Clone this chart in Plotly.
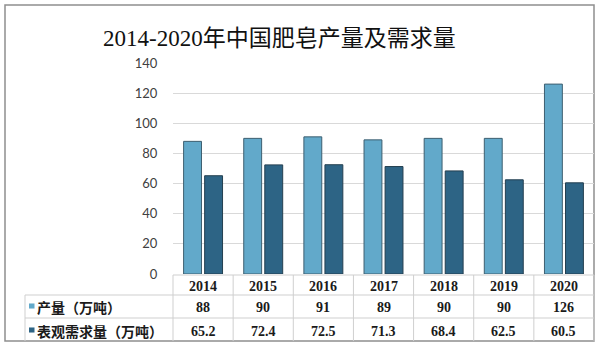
import plotly.graph_objects as go

years = ["2014", "2015", "2016", "2017", "2018", "2019", "2020"]
production = [88, 90, 91, 89, 90, 90, 126]
demand = [65.2, 72.4, 72.5, 71.3, 68.4, 62.5, 60.5]
prod_labels = ["88", "90", "91", "89", "90", "90", "126"]
demand_labels = ["65.2", "72.4", "72.5", "71.3", "68.4", "62.5", "60.5"]
series_names = ["产量（万吨）", "表观需求量（万吨）"]
title_text = "2014-2020年中国肥皂产量及需求量"
y_ticks = [0, 20, 40, 60, 80, 100, 120, 140]

W, H = 599, 348
ML, MR, MT, MB = 173, 5, 63, 74
PW = W - ML - MR
PH = H - MT - MB

def px_x(p):
    return (p - ML) / PW

def px_y(p):
    return (H - MB - p) / PH

light = "#62a9ca"
dark = "#2d6485"
serif = "'Liberation Serif', 'DejaVu Serif', 'Noto Sans CJK SC', serif"
cjk = "'Noto Sans CJK SC', sans-serif"

fig = go.Figure()
fig.add_trace(go.Bar(x=years, y=production, name=series_names[0],
                     marker=dict(color=light, line=dict(color="#3e5f70", width=1))))
fig.add_trace(go.Bar(x=years, y=demand, name=series_names[1],
                     marker=dict(color=dark, line=dict(color="#243f50", width=1))))

shapes = []
line_c = "#cfcfcf"
# outer frame
shapes.append(dict(type="rect", xref="paper", yref="paper",
                   x0=px_x(5), x1=px_x(594), y0=px_y(341), y1=px_y(5),
                   line=dict(color="#8f8f8f", width=1.5), layer="below"))
# table horizontal lines
y_top, y_r1, y_r2, y_bot = px_y(275), px_y(295), px_y(318), px_y(341)
shapes.append(dict(type="line", xref="paper", yref="paper", x0=0, x1=1, y0=y_top, y1=y_top,
                   line=dict(color=line_c, width=1)))
for yy in (y_r1, y_r2):
    shapes.append(dict(type="line", xref="paper", yref="paper", x0=px_x(25), x1=1, y0=yy, y1=yy,
                       line=dict(color=line_c, width=1)))
# vertical lines
shapes.append(dict(type="line", xref="paper", yref="paper", x0=px_x(25), x1=px_x(25), y0=y_bot, y1=y_r1,
                   line=dict(color=line_c, width=1)))
n = len(years)
for k in range(n + 1):
    xx = k / n
    shapes.append(dict(type="line", xref="paper", yref="paper", x0=xx, x1=xx, y0=y_bot, y1=y_top,
                       line=dict(color=line_c, width=1)))
# legend keys
for yy, c in ((px_y(306), light), (px_y(330), dark)):
    shapes.append(dict(type="rect", xref="paper", yref="paper",
                       x0=px_x(29), x1=px_x(34.5), y0=yy - 0.012, y1=yy + 0.012,
                       fillcolor=c, line=dict(width=0)))

annotations = []
annotations.append(dict(text=title_text, xref="paper", yref="paper", x=px_x(279), y=px_y(38),
                        showarrow=False, xanchor="center", yanchor="middle",
                        font=dict(family=serif, size=23, color="#111")))
for i, yr in enumerate(years):
    for txt, py in ((yr, 286), (prod_labels[i], 307), (demand_labels[i], 331)):
        annotations.append(dict(text="<b>" + txt + "</b>", x=i, xref="x", yref="paper", y=px_y(py),
                                showarrow=False, xanchor="center", yanchor="middle",
                                font=dict(family=serif, size=14, color="#1a1a1a")))
for name, py in zip(series_names, (307, 331)):
    annotations.append(dict(text="<b>" + name + "</b>", xref="paper", yref="paper", x=px_x(35), y=px_y(py),
                            showarrow=False, xanchor="left", yanchor="middle",
                            font=dict(family=cjk, size=14, color="#1a1a1a")))

fig.update_layout(
    width=W, height=H,
    margin=dict(l=ML, r=MR, t=MT, b=MB),
    paper_bgcolor="white", plot_bgcolor="white",
    barmode="group", bargap=0.3, bargroupgap=0.15,
    showlegend=False,
    shapes=shapes, annotations=annotations,
    xaxis=dict(type="category", range=[-0.5, len(years) - 0.5], showticklabels=False,
               showgrid=False, zeroline=False, showline=False, ticks=""),
    yaxis=dict(range=[0, 140], tickvals=y_ticks, showgrid=True, gridcolor="#d9d9d9",
               zeroline=False, showline=False, ticks="outside", ticklen=12, tickcolor="white",
               tickfont=dict(family="Lato, 'Liberation Sans', sans-serif", size=13, color="#404040")),
)

fig.write_html("out.html")
